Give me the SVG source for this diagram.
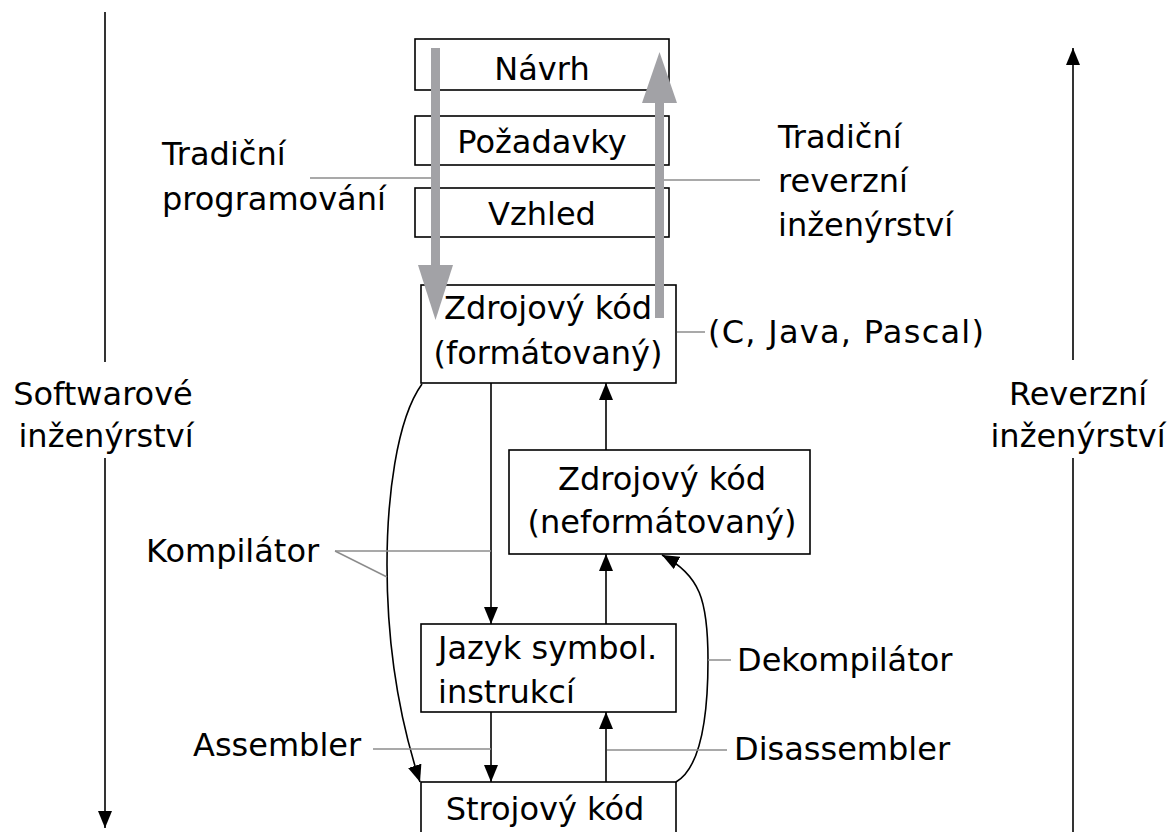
<svg xmlns="http://www.w3.org/2000/svg" width="1175" height="832" viewBox="0 0 1175 832">
<style>
text{font-family:"DejaVu Sans","Liberation Sans",sans-serif;font-size:32px;fill:#000}
.box{fill:#fff;stroke:#000;stroke-width:1.6}
.c{text-anchor:middle}
.ln{fill:none;stroke:#000;stroke-width:1.6}
.ld{fill:none;stroke:#8c8c8c;stroke-width:1.5}
.big{fill:#a2a2a6}
</style>
<defs>
<marker id="ah" markerUnits="userSpaceOnUse" markerWidth="18" markerHeight="14" refX="17" refY="7" orient="auto">
<path d="M0,0 L17,7 L0,14 z" fill="#000"/>
</marker>
</defs>
<rect width="1175" height="832" fill="#fff"/>

<g id="nodes">
<g id="navrh"><rect class="box" x="415" y="39" width="254" height="51"/><text class="c" x="542" y="80">Návrh</text></g>
<g id="pozadavky"><rect class="box" x="415" y="116" width="254" height="49"/><text class="c" x="542" y="153">Požadavky</text></g>
<g id="vzhled"><rect class="box" x="415" y="188" width="254" height="49"/><text class="c" x="542" y="225">Vzhled</text></g>
<g id="zdroj-form"><rect class="box" x="421" y="285" width="255" height="98"/><text class="c" x="548" y="319">Zdrojový kód</text><text class="c" x="548" y="364">(formátovaný)</text></g>
<g id="zdroj-neform"><rect class="box" x="509" y="450" width="301" height="104"/><text class="c" x="662" y="490">Zdrojový kód</text><text class="c" x="662" y="533">(neformátovaný)</text></g>
<g id="jazyk"><rect class="box" x="421" y="624" width="255" height="88"/><text x="438" y="659">Jazyk symbol.</text><text x="438" y="703">instrukcí</text></g>
<g id="strojovy"><rect class="box" x="421" y="782" width="255" height="60"/><text class="c" x="545" y="820">Strojový kód</text></g>
</g>

<g id="connectors">
<rect class="big" x="431" y="48" width="9" height="218"/>
<path class="big" d="M418,265 L453,265 L435.5,320 z"/>
<rect class="big" x="655" y="102" width="9" height="216"/>
<path class="big" d="M642,103 L677,103 L659.5,52 z"/>
<line class="ln" x1="491" y1="383" x2="491" y2="624" marker-end="url(#ah)"/>
<line class="ln" x1="491" y1="712" x2="491" y2="782" marker-end="url(#ah)"/>
<line class="ln" x1="606" y1="782" x2="606" y2="712" marker-end="url(#ah)"/>
<line class="ln" x1="606" y1="624" x2="606" y2="554" marker-end="url(#ah)"/>
<line class="ln" x1="606" y1="450" x2="606" y2="383" marker-end="url(#ah)"/>
<path class="ln" d="M422,384 C396,420 387,500 387,565 C387,660 403,730 420,782" marker-end="url(#ah)"/>
<path class="ln" d="M676,782 C700,768 708,720 708,660 C708,600 700,575 662,555" marker-end="url(#ah)"/>
<line class="ln" x1="105" y1="12" x2="105" y2="362"/>
<line class="ln" x1="105" y1="458" x2="105" y2="828" marker-end="url(#ah)"/>
<line class="ln" x1="1073" y1="832" x2="1073" y2="458"/>
<line class="ln" x1="1073" y1="360" x2="1073" y2="48" marker-end="url(#ah)"/>
<line class="ld" x1="310" y1="178" x2="431" y2="178"/>
<line class="ld" x1="664" y1="180" x2="760" y2="180"/>
<line class="ld" x1="677" y1="332" x2="705" y2="332"/>
<line class="ld" x1="335" y1="551" x2="491" y2="551"/>
<line class="ld" x1="335" y1="551" x2="387" y2="577"/>
<line class="ld" x1="373" y1="749" x2="491" y2="749"/>
<line class="ld" x1="708" y1="660" x2="731" y2="660"/>
<line class="ld" x1="607" y1="750" x2="727" y2="750"/>
</g>

<g id="labels">
<text x="162" y="165">Tradiční</text>
<text x="162" y="210">programování</text>
<text x="778" y="148">Tradiční</text>
<text x="778" y="192">reverzní</text>
<text x="778" y="236">inženýrství</text>
<text x="708" y="343" textLength="276">(C, Java, Pascal)</text>
<text class="c" x="103" y="405">Softwarové</text>
<text class="c" x="106" y="447">inženýrství</text>
<text class="c" x="1078" y="405">Reverzní</text>
<text class="c" x="1078" y="447">inženýrství</text>
<text x="146" y="562">Kompilátor</text>
<text x="193" y="756">Assembler</text>
<text x="737" y="671">Dekompilátor</text>
<text x="734" y="760">Disassembler</text>
</g>
</svg>
